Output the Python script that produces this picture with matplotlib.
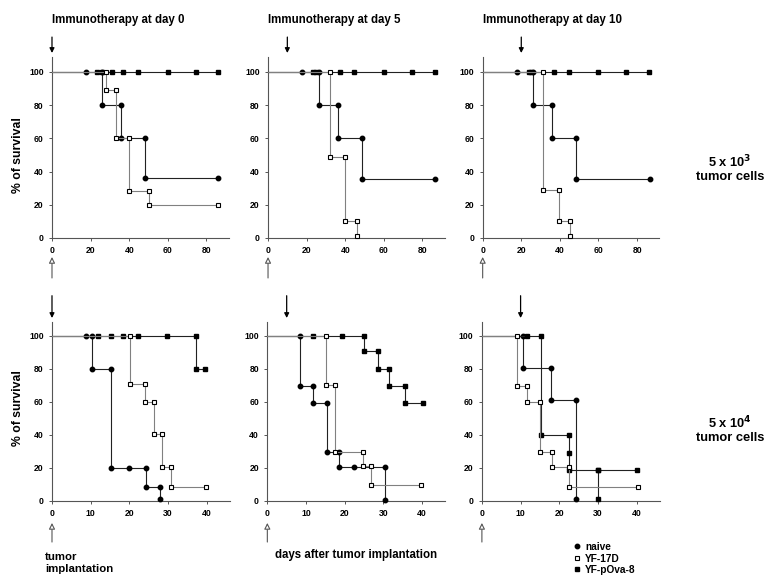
import matplotlib
matplotlib.use('Agg')
import matplotlib.pyplot as plt
from matplotlib.lines import Line2D
import numpy as np

plt.rcParams['font.family'] = ['Liberation Sans', 'DejaVu Sans']
plt.rcParams['font.weight'] = 'bold'

nan = np.nan

# --- panel data (x = days, y = % survival); lines start at day 0 ---
# top row: 5 x 10^3 tumor cells
naive_d0_x = [0, 17.6, 26, 26, 36, 36, 48, 48, 86]
naive_d0_y = [100, 100, 100, 80, 80, 60, 60, 36, 36]
yf17d_d0_x = [0, 28, 28, 33, 33, 40, 40, 50, 50, 86]
yf17d_d0_y = [100, 100, 89, 89, 60, 60, 28, 28, 20, 20]
ova_d0_x = [0, 23.5, 26, 31, 37, 44.5, 60, 74.5, 86]
ova_d0_y = [100, 100, 100, 100, 100, 100, 100, 100, 100]

naive_d5_x = [0, 17.6, 26.3, 26.3, 36, 36, 48.5, 48.5, 86.5]
naive_d5_y = [100, 100, 100, 80, 80, 60, 60, 35.5, 35.5]
yf17d_d5_x = [0, 32, 32, 40, 40, 46, 46]
yf17d_d5_y = [100, 100, 49, 49, 10, 10, 1]
ova_d5_x = [0, 23.5, 25, 37.1, 44.7, 60, 74.6, 86.5]
ova_d5_y = [100, 100, 100, 100, 100, 100, 100, 100]

naive_d10_x = [0, 17.7, 26.3, 26.3, 36, 36, 48.3, 48.3, 86.5]
naive_d10_y = [100, 100, 100, 80, 80, 60, 60, 35.5, 35.5]
yf17d_d10_x = [0, 31.5, 31.5, 39.7, 39.7, 45.3, 45.3]
yf17d_d10_y = [100, 100, 29, 29, 10, 10, 1]
ova_d10_x = [0, 23.9, 25.2, 37.1, 44.7, 60, 74.5, 86.2]
ova_d10_y = [100, 100, 100, 100, 100, 100, 100, 100]

# bottom row: 5 x 10^4 tumor cells
naive_b0_x = [0, 8.7, 10.4, 10.4, 15.3, 15.3, 20, 24.3, 24.3, 27.8, 27.8]
naive_b0_y = [100, 100, 100, 80, 80, 20, 20, 20, 8.5, 8.5, 1.5]
yf17d_b0_x = [0, 20.1, 20.1, 24, 24, 26.4, 26.4, 28.4, 28.4, 30.7, 30.7, 39.7]
yf17d_b0_y = [100, 100, 70.5, 70.5, 60, 60, 40.5, 40.5, 20.5, 20.5, 8.5, 8.5]
ova_b0_x = [0, 11.8, 15.3, 18.3, 22.1, 29.8, 37.2, 37.2, 39.6]
ova_b0_y = [100, 100, 100, 100, 100, 100, 100, 80, 80]

naive_b5_x = [0, 8.5, 8.5, 11.9, 11.9, 15.4, 15.4, 18.5, 18.5, 22.3, 30.3, 30.3]
naive_b5_y = [100, 100, 69.5, 69.5, 59.5, 59.5, 29.5, 29.5, 20.5, 20.5, 20.5, 0.5]
yf17d_b5_x = [0, 15.1, 15.1, 17.5, 17.5, 24.7, 24.7, 26.9, 26.9, 39.8]
yf17d_b5_y = [100, 100, 70, 70, 29.5, 29.5, 21, 21, 9.5, 9.5]
ova_b5_x = [0, 11.8, 19.3, 25, 25, 28.6, 28.6, 31.5, 31.5, 35.5, 35.5, 40.1]
ova_b5_y = [100, 100, 100, 100, 90.5, 90.5, 80, 80, 69.5, 69.5, 59.5, 59.5]

naive_b10_x = [0, 10.6, 10.6, 17.8, 17.8, 24.3, 24.3]
naive_b10_y = [100, 100, 80.5, 80.5, 61, 61, 1]
yf17d_b10_x = [0, 9.1, 9.1, 11.7, 11.7, 15.1, 15.1, 18.1, 18.1, 22.4, 22.4, 40.4]
yf17d_b10_y = [100, 100, 69.5, 69.5, 60, 60, 29.5, 29.5, 20.5, 20.5, 8.5, 8.5]
ova_b10_x = [0, 11.7, 15.3, 15.3, 22.4, 22.4, 22.4, 30, 40.2, nan, 30, 30]
ova_b10_y = [100, 100, 100, 40, 40, 29, 18.5, 18.5, 18.5, nan, 18.5, 1]

titles = ['Immunotherapy at day 0', 'Immunotherapy at day 5', 'Immunotherapy at day 10']
therapy_top = [0, 10, 20]
therapy_bottom = [0, 5, 10]

panels = [
    [(naive_d0_x, naive_d0_y), (yf17d_d0_x, yf17d_d0_y), (ova_d0_x, ova_d0_y)],
    [(naive_d5_x, naive_d5_y), (yf17d_d5_x, yf17d_d5_y), (ova_d5_x, ova_d5_y)],
    [(naive_d10_x, naive_d10_y), (yf17d_d10_x, yf17d_d10_y), (ova_d10_x, ova_d10_y)],
    [(naive_b0_x, naive_b0_y), (yf17d_b0_x, yf17d_b0_y), (ova_b0_x, ova_b0_y)],
    [(naive_b5_x, naive_b5_y), (yf17d_b5_x, yf17d_b5_y), (ova_b5_x, ova_b5_y)],
    [(naive_b10_x, naive_b10_y), (yf17d_b10_x, yf17d_b10_y), (ova_b10_x, ova_b10_y)],
]

fig = plt.figure(figsize=(7.76, 5.82), dpi=100)

lefts_top = [0.067, 0.3454, 0.622]
lefts_bot = [0.067, 0.3445, 0.621]

styles = [
    dict(marker='o', mfc='black', mec='black', ms=3.2, color='#222222', zorder=3),
    dict(marker='s', mfc='white', mec='black', ms=3.5, mew=0.8, color='#808080', zorder=5),
    dict(marker='s', mfc='black', mec='black', ms=3.5, color='#222222', zorder=4),
]

axes = []
for i in range(6):
    top = i < 3
    if top:
        ax = fig.add_axes([lefts_top[i], 0.5911, 0.2276, 0.311])
        ax.set_xlim(0, 91.5)
        ax.set_ylim(0, 109)
        ax.set_xticks([0, 20, 40, 60, 80])
    else:
        ax = fig.add_axes([lefts_bot[i - 3], 0.1392, 0.2294, 0.3067])
        ax.set_xlim(0, 46)
        ax.set_ylim(0, 108)
        ax.set_xticks([0, 10, 20, 30, 40])
    ax.set_yticks([0, 20, 40, 60, 80, 100])
    for s in ['top', 'right']:
        ax.spines[s].set_visible(False)
    for s in ['left', 'bottom']:
        ax.spines[s].set_color('#555555')
        ax.spines[s].set_linewidth(0.8)
    ax.tick_params(labelsize=6.2, length=2.5, width=0.7, color='#555555', pad=3.5)
    for lab in ax.get_xticklabels() + ax.get_yticklabels():
        lab.set_fontweight('bold')

    for (xs, ys), st in zip(panels[i], styles):
        ax.plot(xs, ys, lw=0.8, markevery=slice(1, None), clip_on=False, **st)

    # therapy arrow (filled) and implantation arrow (open)
    tx = therapy_top[i] if top else therapy_bottom[i - 3]
    if top:
        tip, tail = 1.022, 1.11
        otip, otail = -0.105, -0.221
    else:
        tip, tail = 1.025, 1.15
        otip, otail = -0.123, -0.23
    ax.annotate('', xy=(tx, tip), xycoords=('data', 'axes fraction'),
                xytext=(tx, tail), textcoords=('data', 'axes fraction'),
                arrowprops=dict(arrowstyle='-|>', color='black', lw=0.9,
                                mutation_scale=7, shrinkA=0, shrinkB=0))
    ax.annotate('', xy=(0, otip), xycoords=('data', 'axes fraction'),
                xytext=(0, otail), textcoords=('data', 'axes fraction'),
                arrowprops=dict(arrowstyle='-|>', fc='white', ec='#555555', lw=0.8,
                                mutation_scale=9, shrinkA=0, shrinkB=0))
    axes.append(ax)

for i, t in enumerate(titles):
    fig.text(lefts_top[i], 1 - 20 / 582, t, fontsize=8.3, fontweight='bold',
             ha='left', va='center')

fig.text(0.023, 1 - 155 / 582, '% of survival', rotation=90, fontsize=8.8,
         fontweight='bold', ha='center', va='center')
fig.text(0.023, 1 - 408 / 582, '% of survival', rotation=90, fontsize=8.8,
         fontweight='bold', ha='center', va='center')

fig.text(730 / 776, 1 - 168 / 582, '5 x 10$^{\\mathbf{3}}$\ntumor cells', fontsize=9.3,
         fontweight='bold', ha='center', va='center', linespacing=1.1)
fig.text(730 / 776, 1 - 429 / 582, '5 x 10$^{\\mathbf{4}}$\ntumor cells', fontsize=9.3,
         fontweight='bold', ha='center', va='center', linespacing=1.1)

fig.text(45 / 776, 1 - 563 / 582, 'tumor\nimplantation', fontsize=8.2,
         fontweight='bold', ha='left', va='center', linespacing=1.2)
fig.text(356 / 776, 1 - 555 / 582, 'days after tumor implantation', fontsize=8.3,
         fontweight='bold', ha='center', va='center')

handles = [
    Line2D([], [], ls='none', marker='o', mfc='black', mec='black', ms=3.2),
    Line2D([], [], ls='none', marker='s', mfc='white', mec='black', ms=3.5, mew=0.8),
    Line2D([], [], ls='none', marker='s', mfc='black', mec='black', ms=3.5),
]
labels = ['naive', 'YF-17D', 'YF-pOva-8']
fig.legend(handles, labels, loc='upper left', bbox_to_anchor=(574 / 776, 1 - 542 / 582),
           frameon=False, prop={'size': 7.3, 'weight': 'bold'}, handlelength=0.6,
           handletextpad=0.5, labelspacing=0.15, borderpad=0, borderaxespad=0)

fig.savefig('out.png', dpi=100)
